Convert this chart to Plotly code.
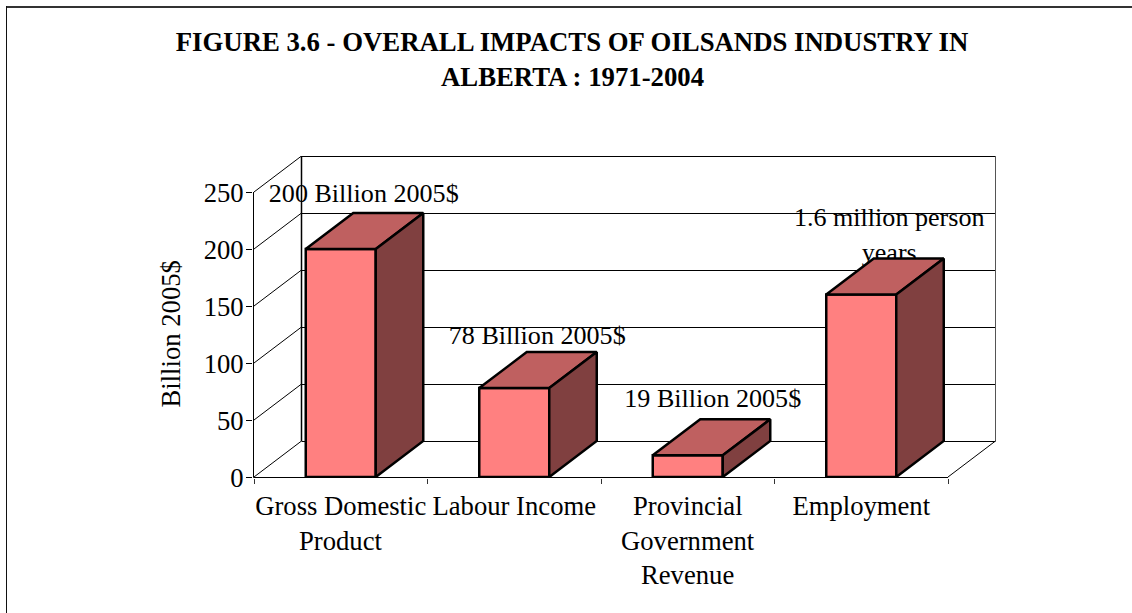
import plotly.graph_objects as go

# ---- data ----
CATEGORIES = ["Gross Domestic<br>Product", "Labour Income",
              "Provincial<br>Government<br>Revenue", "Employment"]
VALUES = [200, 78, 19, 160]
LABELS = ["200 Billion 2005$", "78 Billion 2005$", "19 Billion 2005$",
          "1.6 million person<br>years"]
Y_TICKS = [0, 50, 100, 150, 200, 250]
Y_TITLE = "Billion 2005$"
TITLE_LINES = ["FIGURE 3.6 - OVERALL IMPACTS OF OILSANDS INDUSTRY IN",
               "ALBERTA : 1971-2004"]

# ---- layout constants (pixels) ----
W, H = 1132, 613
L, R, T, B = 253, 996, 156, 478   # plot area: one pixel of slack left and below
PX_X = 173.5          # pixels per category
PX_Y = 57 / 50        # pixels per value unit
DEPTH_PX = (47.5, 36)
DX = DEPTH_PX[0] / PX_X
DY = DEPTH_PX[1] / PX_Y
BAR_W = 70 / PX_X
FONT = "Liberation Serif, Times New Roman, serif"
FS = 26.67
FS_LABEL = 26.1
FS_TITLE = 26.75
FRONT, TOP, SIDE = "#FF8080", "#BF6060", "#804040"
# label anchor relative to bar centre / bar top (pixels)
LABEL_SHIFT = [(23, 54), (23, 51), (25, 55), (28, 75)]
LINE_PX = 35
HX, HY = 0.5 / PX_X, 0.5 / PX_Y   # half-pixel nudge for crisp 1px lines

xmin = -0.5
xlow = xmin - 1 / PX_X
xmax = xlow + (R - L) / PX_X
ylow = -1 / PX_Y
ymax = ylow + (B - T) / PX_Y
n = len(CATEGORIES)

fig = go.Figure()


def line_shape(x0, y0, x1, y1, w=1, color="#000000"):
    return dict(type="line", xref="x", yref="y", x0=x0, y0=y0, x1=x1, y1=y1,
                layer="below", line=dict(color=color, width=w))


shapes = []
# back wall and its gridlines, side wall diagonals
for t in Y_TICKS:
    shapes.append(line_shape(xmin + DX, t + DY - HY, xmin + DX + n, t + DY - HY))
    shapes.append(line_shape(xmin, t, xmin + DX, t + DY))
shapes.append(line_shape(xmin + DX, DY, xmin + DX, Y_TICKS[-1] + DY, 1.5))
shapes.append(line_shape(xmin + DX + n, DY, xmin + DX + n, Y_TICKS[-1] + DY, 1, "#555555"))
# value axis and category axis lines, floor edge
shapes.append(line_shape(xmin - HX, -HY, xmin - HX, Y_TICKS[-1]))
shapes.append(line_shape(xmin - HX, -HY, xmin + n, -HY, 1))
shapes.append(line_shape(xmin + n, 0, xmin + n + DX, DY))


# page frame
def px(x):
    return (x - L) / (R - L)


def py(y):
    return (B - y) / (B - T)


for x0, y0, x1, y1, w, col in [(6, 7, 1132, 7, 2, "#333333"), (6.5, 6, 6.5, 613, 1, "#111111")]:
    shapes.append(dict(type="line", xref="paper", yref="paper",
                       x0=px(x0), y0=py(y0), x1=px(x1), y1=py(y1),
                       line=dict(color=col, width=w)))

# front faces
xs = list(range(n))
fig.add_trace(go.Bar(x=xs, y=VALUES, width=BAR_W,
                     marker=dict(color=FRONT, line=dict(color="black", width=2.5)),
                     hoverinfo="skip", showlegend=False))

# data labels (under the top faces)
for i, (v, lab) in enumerate(zip(VALUES, LABELS)):
    sx, sy = LABEL_SHIFT[i]
    for k, part in enumerate(lab.split("<br>")):
        fig.add_trace(go.Scatter(x=[i + sx / PX_X], y=[v + (sy - k * LINE_PX) / PX_Y],
                                 mode="text", text=[part], textposition="middle center",
                                 textfont=dict(family=FONT, size=FS_LABEL, color="black"),
                                 hoverinfo="skip", showlegend=False, cliponaxis=False))

# top and side faces
for i, v in enumerate(VALUES):
    a, b = i - BAR_W / 2, i + BAR_W / 2
    fig.add_trace(go.Scatter(x=[a, b, b + DX, a + DX, a], y=[v, v, v + DY, v + DY, v],
                             mode="lines", fill="toself", fillcolor=TOP,
                             line=dict(color="black", width=2.5),
                             hoverinfo="skip", showlegend=False))
    fig.add_trace(go.Scatter(x=[b, b + DX, b + DX, b, b], y=[0, DY, v + DY, v, 0],
                             mode="lines", fill="toself", fillcolor=SIDE,
                             line=dict(color="black", width=2.5),
                             hoverinfo="skip", showlegend=False))

annotations = []
# continuation lines of the category labels
for i, c in enumerate(CATEGORIES):
    for k, part in enumerate(c.split("<br>")):
        if k == 0:
            continue
        annotations.append(dict(x=i, y=0, xref="x", yref="y", text=part, showarrow=False,
                                yanchor="middle", yshift=-(29 + k * 34.5),
                                font=dict(family=FONT, size=FS, color="black")))
annotations.append(dict(x=px(170), y=py(334.5), xref="paper", yref="paper", text=Y_TITLE,
                        textangle=-90, showarrow=False, xanchor="center", yanchor="middle",
                        font=dict(family=FONT, size=FS, color="black")))
annotations.append(dict(x=px(572), y=py(77), xref="paper", yref="paper", text=TITLE_LINES[1],
                        showarrow=False, yanchor="middle", xanchor="center",
                        font=dict(family=FONT, size=FS_TITLE, color="black", weight="bold")))

fig.update_layout(
    width=W, height=H, autosize=False,
    margin=dict(l=L, r=W - R, t=T, b=H - B, pad=0),
    paper_bgcolor="white", plot_bgcolor="rgba(0,0,0,0)",
    showlegend=False, shapes=shapes, annotations=annotations,
    title=dict(text=TITLE_LINES[0], x=572 / W, xanchor="center", xref="container",
               y=1 - 42 / H, yanchor="middle", yref="container",
               font=dict(family=FONT, size=FS_TITLE, color="black", weight="bold")),
    xaxis=dict(range=[xlow, xmax], tickmode="array", tickvals=xs,
               ticktext=[c.split("<br>")[0] for c in CATEGORIES],
               ticks="", showgrid=False, zeroline=False, showline=False,
               tickfont=dict(family=FONT, size=FS, color="black"), ticklabelstandoff=9,
               minor=dict(tickmode="array", tickvals=[xmin + j for j in range(n + 1)],
                          ticks="outside", ticklen=5, tickcolor="#333333", showgrid=False)),
    yaxis=dict(range=[ylow, ymax], tickmode="array", tickvals=Y_TICKS,
               ticks="outside", ticklen=6, tickcolor="black", showgrid=False,
               zeroline=False, showline=False, ticklabelstandoff=-3, ticklabelshift=1,
               tickfont=dict(family=FONT, size=FS, color="black")),
)

fig.write_html("out.html", config={"displayModeBar": False},
               post_script="document.body.style.margin='0';document.body.style.overflow='hidden';")
